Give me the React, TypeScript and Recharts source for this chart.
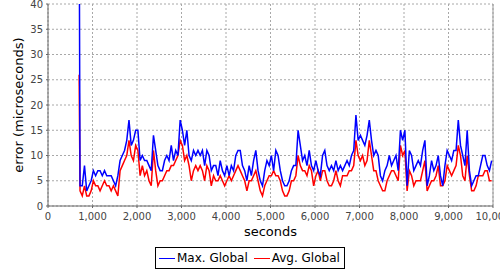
import { LineChart, Line, XAxis, YAxis, CartesianGrid, Legend, ReferenceLine } from 'recharts'

// first sample at 700 s, the rest every 50 s from 720 s
const FIRST_SECONDS = 700
const START_SECONDS = 720
const STEP_SECONDS = 50

const maxGlobal = [
  60, 4, 4, 8, 3, 4, 5, 7, 6, 7,
  7, 6, 7, 6, 6, 6, 5, 4, 6, 9,
  10, 11, 13, 17, 12, 13, 15, 15, 9, 10,
  9, 9, 8, 7, 14, 11, 8, 7, 7, 9,
  10, 9, 12, 9, 11, 10, 17, 15, 12, 15,
  10, 9, 11, 10, 11, 10, 11, 8, 11, 10,
  7, 8, 8, 6, 9, 7, 6, 8, 6, 8,
  7, 10, 11, 11, 8, 7, 5, 8, 6, 9,
  11, 7, 5, 4, 7, 9, 8, 10, 7, 11,
  10, 7, 5, 4, 4, 5, 7, 8, 8, 15,
  12, 9, 10, 8, 11, 8, 7, 9, 7, 6,
  10, 11, 8, 7, 8, 7, 9, 7, 8, 7,
  8, 9, 8, 10, 11, 18, 13, 14, 13, 12,
  14, 17, 13, 10, 11, 10, 6, 5, 7, 8,
  10, 8, 9, 10, 7, 15, 13, 15, 4, 11,
  10, 7, 8, 9, 8, 11, 13, 4, 6, 9,
  7, 8, 10, 6, 4, 8, 11, 10, 9, 11,
  11, 17, 12, 10, 8, 15, 7, 4, 5, 6,
  6, 8, 10, 10, 8, 7, 9,
]

const avgGlobal = [
  26, 3, 2, 4, 2, 2, 3, 5, 4, 4,
  3, 4, 5, 4, 4, 3, 4, 3, 2, 7,
  8, 9, 10, 13, 10, 9, 12, 11, 6, 8,
  6, 7, 5, 4, 11, 7, 4, 5, 5, 6,
  7, 7, 8, 8, 9, 10, 13, 12, 9, 10,
  8, 5, 7, 8, 7, 8, 7, 5, 8, 7,
  4, 6, 5, 5, 6, 5, 4, 5, 6, 5,
  6, 7, 8, 7, 6, 5, 3, 5, 5, 6,
  7, 5, 3, 2, 4, 5, 6, 6, 7, 6,
  6, 5, 3, 2, 2, 3, 5, 5, 6, 10,
  8, 7, 7, 6, 8, 7, 4, 6, 7, 5,
  7, 7, 5, 4, 4, 5, 7, 5, 4, 6,
  6, 6, 7, 7, 8, 13, 10, 9, 10, 8,
  9, 13, 10, 7, 7, 5, 4, 3, 3, 5,
  6, 7, 7, 6, 5, 12, 10, 11, 3, 7,
  6, 4, 5, 5, 5, 7, 9, 3, 4, 5,
  5, 6, 8, 4, 4, 5, 8, 7, 6, 7,
  8, 12, 10, 6, 5, 10, 6, 3, 3, 4,
  6, 6, 6, 7, 7, 5, 5,
]

const xTicks = [0, 1000, 2000, 3000, 4000, 5000, 6000, 7000, 8000, 9000, 10000]
const yTicks = [0, 5, 10, 15, 20, 25, 30, 35, 40]

const series = [
  { key: 'max', name: 'Max. Global', color: '#0000ff' },
  { key: 'avg', name: 'Avg. Global', color: '#ff0000' },
]

const data = maxGlobal.map((v, i) => ({
  t: i === 0 ? FIRST_SECONDS : START_SECONDS + (i - 1) * STEP_SECONDS,
  max: v,
  avg: avgGlobal[i],
}))

const FONT = '"DejaVu Sans", sans-serif'
const tickStyle = { fontSize: 10, fill: '#444', fontFamily: FONT }

const YLabel = ({ viewBox }: any) => {
  const cy = viewBox.y + viewBox.height / 2
  return (
    <text
      x={18}
      y={cy}
      transform={`rotate(-90, 18, ${cy})`}
      textAnchor="middle"
      dominantBaseline="central"
      fontSize={13}
      fontFamily={FONT}
      fill="#000"
    >
      error (microseconds)
    </text>
  )
}

const XLabel = ({ viewBox }: any) => (
  <text
    x={viewBox.x + viewBox.width / 2}
    y={236}
    textAnchor="middle"
    fontSize={13}
    fontFamily={FONT}
    fill="#000"
  >
    seconds
  </text>
)

const renderLegend = () => (
  <div
    style={{
      display: 'flex',
      alignItems: 'center',
      boxSizing: 'border-box',
      border: '1px solid #000',
      width: 190,
      height: 22,
      padding: '0 0 0 3px',
      fontFamily: FONT,
      fontSize: 12,
      color: '#000',
      background: '#fff',
      whiteSpace: 'nowrap',
    }}
  >
    {series.map((s, i) => (
      <span key={s.key} style={{ display: 'flex', alignItems: 'center', marginLeft: i ? 6 : 0 }}>
        <span style={{ display: 'inline-block', width: 16, height: 1, background: s.color, marginRight: 2 }} />
        {s.name}
      </span>
    ))}
  </div>
)

export default function App() {
  return (
    <div style={{ position: 'absolute', left: 0, top: 0, width: 500, height: 270, background: '#fff' }}>
      <LineChart width={500} height={270} data={data} margin={{ top: 4, right: 7, bottom: 0, left: 0 }}>
        <CartesianGrid stroke="#a8a8a8" strokeDasharray="2 2" />
        <XAxis
          dataKey="t"
          type="number"
          domain={[0, 10000]}
          ticks={xTicks}
          tickFormatter={(v: number) => v.toLocaleString('en-US')}
          tick={tickStyle}
          tickSize={2}
          tickMargin={5}
          height={64}
          stroke="#666"
          interval={0}
          label={<XLabel />}
        />
        <YAxis
          type="number"
          domain={[0, 40]}
          ticks={yTicks}
          allowDataOverflow
          tick={tickStyle}
          tickSize={2}
          tickMargin={3}
          width={48}
          stroke="#666"
          interval={0}
          label={<YLabel />}
        />
        <ReferenceLine x={10000} stroke="#999" />
        {[...series].reverse().map((s) => (
          <Line
            key={s.key}
            dataKey={s.key}
            name={s.name}
            stroke={s.color}
            strokeWidth={1.5}
            dot={false}
            type="linear"
            isAnimationActive={false}
          />
        ))}
        <Legend
          layout="horizontal"
          verticalAlign="middle"
          align="center"
          content={renderLegend}
          wrapperStyle={{ top: 247, left: 155, width: 'auto' }}
        />
      </LineChart>
    </div>
  )
}
